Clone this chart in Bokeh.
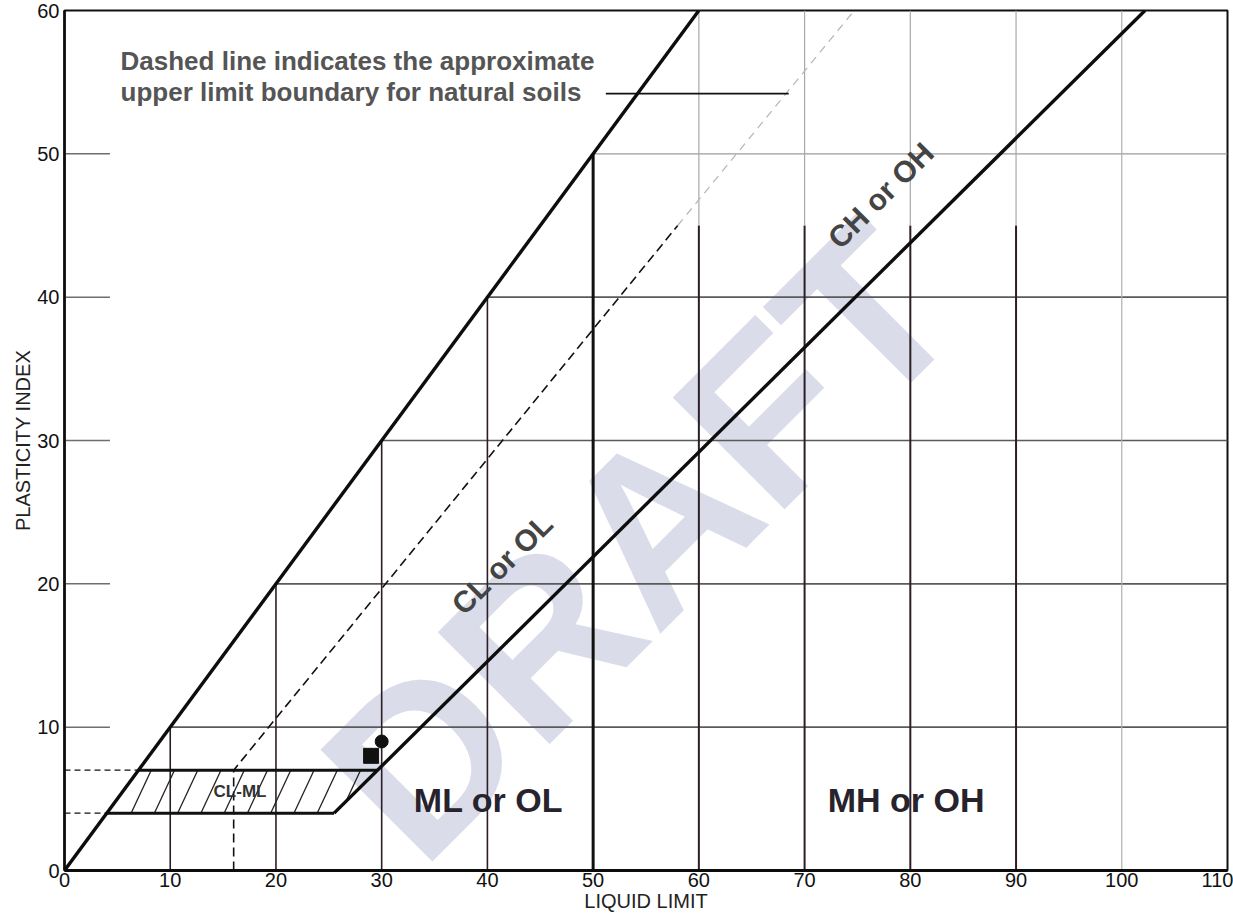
import math

from bokeh.embed import file_html
from bokeh.models import FixedTicker, Label, Range1d
from bokeh.plotting import figure
from bokeh.resources import INLINE

FONT = "Liberation Sans"

# ---- axis ticks -----------------------------------------------------------
x_ticks = [0, 10, 20, 30, 40, 50, 60, 70, 80, 90, 100, 110]
y_ticks = [0, 10, 20, 30, 40, 50, 60]

# ---- classification boundaries (liquid limit, plasticity index) -----------
upper_ll = [0, 60]            # PI = LL limit
upper_pi = [0, 60]
a_line_ll = [25.5, 102.2]     # "A" line
a_line_pi = [4, 60]
u_dark_ll = [16, 16, 58]      # "U" line, lower (dark) part
u_dark_pi = [0, 7, 45]
u_light_ll = [58, 74.7]       # "U" line, upper (faint) part
u_light_pi = [45, 60]

# CL-ML band
clml_ll = [4, 25.5, 29.6, 7]
clml_pi = [4, 4, 7, 7]
clml_top_pi = 7
clml_bottom_pi = 4

# test results
circle_ll = [30]
circle_pi = [9]
square_ll = [29]
square_pi = [8]

# zone labels
zone_text = ["ML or OL", "MH or OH"]
zone_ll = [40.1, 79.6]
zone_pi = [4.9, 4.9]
diag_text = ["CL or OL", "CH or OH"]
diag_ll = [41.4, 77.2]
diag_pi = [21.4, 47.1]

note_lines = ["Dashed line indicates the approximate",
              "upper limit boundary for natural soils"]
note_ll = [5.3, 5.3]
note_pi = [56.5, 54.3]
leader_ll = [51.2, 68.5]
leader_pi = [54.2, 54.2]

p = figure(width=1233, height=918, output_backend="svg", toolbar_location=None,
           x_range=Range1d(0, 110), y_range=Range1d(0, 60),
           min_border_left=64, min_border_right=6, min_border_top=10,
           min_border_bottom=48)
p.background_fill_color = "white"
p.border_fill_color = "white"
p.xgrid.visible = False
p.ygrid.visible = False
p.outline_line_color = "#111111"
p.outline_line_width = 2


def label(x, y, text, size, color, bold=True, angle=0.0, align="center",
          level="annotation"):
    lab = Label(x=x, y=y, text=text, angle=angle, text_font=FONT,
                text_font_style="bold" if bold else "normal",
                text_font_size=size, text_color=color,
                text_align=align, text_baseline="middle", level=level)
    p.add_layout(lab)
    return lab


# pale "DRAFT" stamp underneath the chart lines (solid pale colour, no alpha)
label(54.5, 23.0, "DRAFT", "230px", "#dadce9", angle=math.pi / 4,
      level="underlay")

# horizontal grid: short stubs at the axis, then from the PI=LL line rightwards
stub_end = 4.3
p.segment(x0=[0] * 5, y0=y_ticks[1:6], x1=[stub_end] * 5, y1=y_ticks[1:6],
          line_color="#6e6e6e", line_width=1.5)
p.segment(x0=y_ticks[1:5], y0=y_ticks[1:5], x1=[110] * 4, y1=y_ticks[1:5],
          line_color="#5a5a5a", line_width=1.6)
p.segment(x0=[50], y0=[50], x1=[110], y1=[50], line_color="#9c9c9c", line_width=1.2)

# vertical grid
p.segment(x0=x_ticks[1:5], y0=[0] * 4, x1=x_ticks[1:5], y1=x_ticks[1:5],
          line_color="#2a1f26", line_width=1.6)
p.segment(x0=[50], y0=[0], x1=[50], y1=[50], line_color="#111111", line_width=3)
p.segment(x0=x_ticks[6:10], y0=[0] * 4, x1=x_ticks[6:10], y1=[45] * 4,
          line_color="#2a1f26", line_width=2)
p.segment(x0=x_ticks[6:10], y0=[45] * 4, x1=x_ticks[6:10], y1=[60] * 4,
          line_color="#a8a8a8", line_width=1.2)
p.segment(x0=[100], y0=[0], x1=[100], y1=[60], line_color="#b0b0b0", line_width=1.2)

# dashed guides from the CL-ML band to the axis
p.segment(x0=[0, 0], y0=[clml_top_pi, clml_bottom_pi],
          x1=[clml_top_pi, clml_bottom_pi], y1=[clml_top_pi, clml_bottom_pi],
          line_color="#111111", line_width=1.4, line_dash="6 4")

# "U" line
p.line(u_dark_ll, u_dark_pi, line_color="#111111", line_width=1.6, line_dash="9 5")
p.line(u_light_ll, u_light_pi, line_color="#b5b5b5", line_width=1.2, line_dash="8 6")

# hatch inside the CL-ML band (lines rising 3 PI over 1.9 LL)
hx0, hy0, hx1, hy1 = [], [], [], []
run = 1.9 / 3.0
for k in range(10):
    b = 6.3 + 2.2 * k
    lo = 4 + max(0.0, (b - 25.5) / (4.1 / 3.0 - run))
    hi = 4 + min(3.0, (b - 4) / (1 - run))
    if hi > lo:
        hx0.append(b + (lo - 4) * run)
        hy0.append(lo)
        hx1.append(b + (hi - 4) * run)
        hy1.append(hi)
p.segment(x0=hx0, y0=hy0, x1=hx1, y1=hy1, line_color="#222222", line_width=1.3)

# CL-ML band outline
p.line(clml_ll[:2], clml_pi[:2], line_color="#111111", line_width=3)
p.line(clml_ll[2:], clml_pi[2:], line_color="#111111", line_width=3)

# boundaries
p.line(upper_ll, upper_pi, line_color="#0d0d0d", line_width=3.4)
p.line(a_line_ll, a_line_pi, line_color="#0d0d0d", line_width=3.4)

# leader for the note
p.line(leader_ll, leader_pi, line_color="#111111", line_width=1.8)

# test points
p.scatter(square_ll, square_pi, marker="square", size=15, fill_color="#111111",
          line_color="#111111")
p.scatter(circle_ll, circle_pi, marker="circle", size=13, fill_color="#111111",
          line_color="#111111")

# labels
label(16.6, 5.5, "CL-ML", "17px", "#333333")
for t, x, y in zip(zone_text, zone_ll, zone_pi):
    label(x, y, t, "34px", "#26232d")
for t, x, y in zip(diag_text, diag_ll, diag_pi):
    label(x, y, t, "30px", "#444444", angle=math.pi / 4)
for t, x, y in zip(note_lines, note_ll, note_pi):
    label(x, y, t, "26px", "#555555", align="left")

# axes
for ax, ticks in ((p.xaxis, x_ticks), (p.yaxis, y_ticks)):
    ax.ticker = FixedTicker(ticks=ticks)
    ax.major_tick_in = 0
    ax.major_tick_out = 0
    ax.minor_tick_in = 0
    ax.minor_tick_out = 0
    ax.axis_line_color = "#0d0d0d"
    ax.major_label_text_font = FONT
    ax.major_label_text_font_size = "20px"
    ax.major_label_text_color = "#111111"
    ax.axis_label_text_font = FONT
    ax.axis_label_text_font_size = "20px"
    ax.axis_label_text_font_style = "normal"
    ax.axis_label_text_color = "#222222"
    ax.axis_label_standoff = 0

p.xaxis.axis_line_width = 3
p.yaxis.axis_line_width = 2.6
p.xaxis.major_label_standoff = 2
p.yaxis.major_label_standoff = 5
p.xaxis.axis_label = "LIQUID LIMIT"
p.yaxis.axis_label = "PLASTICITY INDEX"

open("out.html", "w").write(file_html(p, INLINE))
